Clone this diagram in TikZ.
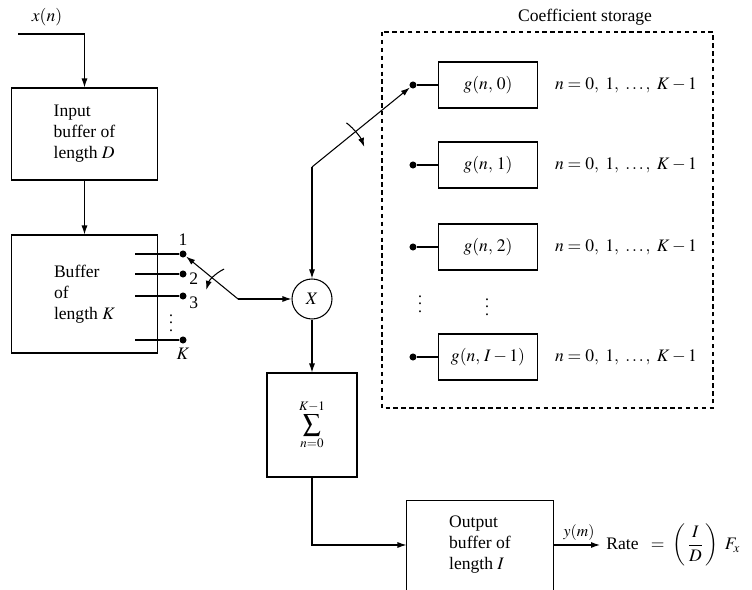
\documentclass[tikz,border=0pt]{standalone}
\usepackage{amsmath}
\usepackage{mathptmx}
\usepackage{fontspec}
\setmainfont{Liberation Serif}
\usepackage{tikz}
\usetikzlibrary{arrows.meta, positioning, calc}

\begin{document}
\begin{tikzpicture}[x=0.02cm, y=-0.02cm, font=\normalsize, semithick,
    >={Latex[length=1.8mm, width=1.2mm]},
    tap/.style={circle, fill, inner sep=0pt, minimum size=4pt},
    gbox/.style={draw, minimum width=1.98cm, minimum height=0.92cm},
    buf/.style={draw, align=left, minimum width=2.92cm},
    vdts/.style={inner sep=0pt, font=\small}]
  \useasboundingbox (0,0) rectangle (752,590);

  % Input buffer and x(n)
  \node[buf, minimum height=1.84cm] (inbuf) at (84.5,134) {Input\\buffer of\\length $D$};
  \coordinate (xin) at (18,34);
  \node (xlab) at (47,17) {$x(n)$};
  \draw[->] (xin) -| (inbuf.north);

  % Buffer of length K with its taps
  \node[buf, minimum height=2.36cm] (bufK) at (84.5,294) {Buffer\\of\\length $K$};
  \draw[->] (inbuf) -- (bufK);
  \foreach \ypos/\tname in {254/1, 274/2, 296/3, 340/K} {
    \node[tap] (tap\tname) at (183,\ypos) {};
    \draw ([xshift=-0.96cm]tap\tname.center) -- (tap\tname);
  }
  \node[above=1pt of tap1, inner sep=1pt] (lab1) {1};
  \node[right=0pt of tap2, yshift=-2.5pt, inner sep=1pt] (lab2) {2};
  \node[right=0pt of tap3, yshift=-4pt, inner sep=1pt] (lab3) {3};
  \node[below=1pt of tapK, inner sep=1pt] (labK) {$K$};
  \node[vdts] (tapdots) at (171,318) {$\vdots$};

  % Input switch and multiplier
  \node[draw, circle, minimum size=0.8cm, inner sep=0pt] (mult) at (312,299) {$X$};
  \coordinate (swA) at (238,299);
  \draw[->] (swA) -- (tap1);
  \draw[->] (swA) -- (mult);
  \draw[->] ([shift={(245:33)}]swA) arc[start angle=245, end angle=196, radius=33];

  % Coefficient storage
  \draw[dashed, dash pattern=on 2.5pt off 2pt] (382,32) rectangle (713,408);
  \node (cstitle) at (585,17) {Coefficient storage};
  \foreach \ypos/\gidx/\gname in {85/0/0, 165/1/1, 247/2/2, 357/I-1/3} {
    \node[gbox] (g\gname) at (488,\ypos) {$g(n,\,\gidx)$};
    \node[tap] (gd\gname) at (413,\ypos) {};
    \draw (gd\gname) -- (g\gname);
    \node (rng\gname) at (626,\ypos) {$n = 0,\ 1,\ \ldots,\ K - 1$};
  }
  \node[vdts] (gddots) at (420,299) {$\vdots$};
  \node[vdts] (gdots) at (487,302) {$\vdots$};

  % Coefficient switch
  \coordinate (swB) at (312,167);
  \draw[->] (swB) -- (mult);
  \draw[->] (swB) -- (gd0);
  \draw[->] ([shift={(308:56)}]swB) arc[start angle=308, end angle=339, radius=56];

  % Accumulator
  \node[draw, minimum width=1.8cm, minimum height=2.08cm] (sum) at (312,425) {$\displaystyle\sum_{n=0}^{K-1}$};
  \draw[->] (mult) -- (sum);

  % Output buffer (bottom edge runs off the page)
  \node[align=left, minimum width=2.92cm, minimum height=1.76cm] (outbuf) at (480,545) {Output\\buffer of\\length $I$};
  \draw ([yshift=-0.4cm]outbuf.south west) -- (outbuf.north west)
    -- (outbuf.north east) -- ([yshift=-0.4cm]outbuf.south east);
  \draw[->] (sum) |- (outbuf);
  \node[anchor=west] (rate) at (600,545) {Rate\ ${}\;=\;\left(\,\dfrac{I}{D}\,\right)\;F_x$};
  \draw[->] (outbuf) -- (rate) node[pos=0.55, above=-1pt, font=\small] {$y(m)$};
\end{tikzpicture}
\end{document}
